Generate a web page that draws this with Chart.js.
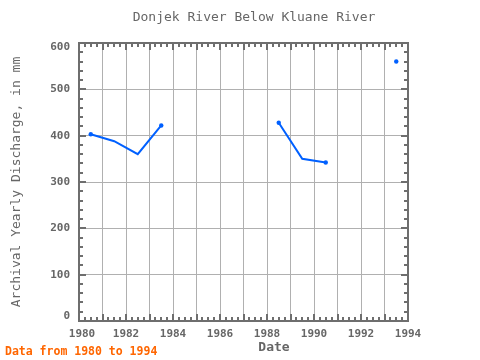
<!DOCTYPE html>
<html>
<head>
<meta charset="utf-8">
<script src="https://cdn.jsdelivr.net/npm/chart.js@4"></script>
<style>
  html, body { margin: 0; padding: 0; background: #fff; }
  #wrap { width: 480px; height: 360px; position: relative; }
</style>
</head>
<body>
<div id="wrap"><canvas id="chart" width="480" height="360"></canvas></div>
<script>
const years = [1980.5, 1981.5, 1982.5, 1983.5, 1984.5, 1985.5, 1986.5, 1987.5, 1988.5, 1989.5, 1990.5, 1991.5, 1992.5, 1993.5];
const discharge = [403, 388, 360, 422, null, null, null, null, 428, 350, 342, null, null, 560];
const xTickLabels = [1980, 1982, 1984, 1986, 1988, 1990, 1992, 1994];
const yTickLabels = [0, 100, 200, 300, 400, 500, 600];

const titleText = 'Donjek River Below Kluane River';
const yTitle = 'Archival Yearly Discharge, in mm';
const xTitle = 'Date';
const footText = 'Data from 1980 to 1994';

const mono = "'DejaVu Sans Mono', monospace";
const axisColor = '#6e6e6e';
const textColor = '#666666';

// marker only where a run of values starts or ends
function endRadius(c) {
  const i = c.dataIndex;
  const prev = i > 0 ? discharge[i - 1] : null;
  const next = i < discharge.length - 1 ? discharge[i + 1] : null;
  return (prev == null || next == null) ? 2.2 : 0;
}

const framePlugin = {
  id: 'frame',
  beforeDatasetsDraw(chart) {
    const { ctx, chartArea: a, scales: { x, y } } = chart;
    ctx.save();
    ctx.strokeStyle = axisColor;
    ctx.lineWidth = 2;
    ctx.beginPath();
    // x ticks, quarter years, inward from bottom and top
    for (let i = 0; i <= 56; i++) {
      const px = Math.round(x.getPixelForValue(1980 + i / 4));
      const len = i % 4 === 0 ? 7 : 4;
      ctx.moveTo(px, a.bottom); ctx.lineTo(px, a.bottom - len);
      ctx.moveTo(px, a.top); ctx.lineTo(px, a.top + len);
    }
    // y ticks every 20
    for (let v = 0; v <= 600; v += 20) {
      const py = Math.round(y.getPixelForValue(v));
      const len = v % 100 === 0 ? 7 : 4;
      ctx.moveTo(a.left, py); ctx.lineTo(a.left + len, py);
      ctx.moveTo(a.right, py); ctx.lineTo(a.right - len, py);
    }
    ctx.stroke();
    ctx.lineWidth = 2;
    ctx.strokeRect(a.left, a.top, a.right - a.left, a.bottom - a.top);
    ctx.restore();
  },
  afterDraw(chart) {
    const { ctx, chartArea: a, scales: { x, y } } = chart;
    ctx.save();
    ctx.fillStyle = textColor;
    ctx.font = 'bold 11px ' + mono;
    ctx.textBaseline = 'middle';
    ctx.textAlign = 'right';
    yTickLabels.forEach(v => {
      let py = y.getPixelForValue(v);
      py = Math.min(Math.max(py, a.top + 4), a.bottom - 5);
      ctx.fillText(String(v), a.left - 9, py);
    });
    ctx.textAlign = 'center';
    xTickLabels.forEach(v => {
      let px = x.getPixelForValue(v);
      px = Math.max(px, a.left + 3);
      ctx.fillText(String(v), px, a.bottom + 13);
    });

    ctx.font = '13px ' + mono;
    ctx.fillText(titleText, 254, 18);

    ctx.font = 'bold 13px ' + mono;
    ctx.fillText(xTitle, 274, 348);

    ctx.save();
    ctx.translate(17, (a.top + a.bottom) / 2);
    ctx.rotate(-Math.PI / 2);
    ctx.font = '13px ' + mono;
    ctx.fillText(yTitle, 0, 0);
    ctx.restore();

    ctx.textAlign = 'left';
    ctx.fillStyle = '#ff6600';
    ctx.font = 'bold 11.5px ' + mono;
    ctx.fillText(footText, 5, 352);
    ctx.restore();
  }
};

new Chart(document.getElementById('chart'), {
  type: 'line',
  data: {
    datasets: [{
      data: years.map((yr, i) => ({ x: yr, y: discharge[i] })),
      borderColor: '#0060ff',
      backgroundColor: '#0060ff',
      borderWidth: 2,
      pointRadius: endRadius,
      pointBorderWidth: 0,
      pointHoverRadius: endRadius,
      spanGaps: false,
      tension: 0
    }]
  },
  options: {
    responsive: false,
    animation: false,
    layout: { padding: { top: 43, right: 72, left: 0, bottom: 0 } },
    plugins: { legend: { display: false }, tooltip: { enabled: false }, title: { display: false } },
    scales: {
      x: {
        type: 'linear',
        min: 1980,
        max: 1994,
        afterFit(s) { s.height = 39; },
        ticks: { stepSize: 1, display: false },
        grid: { color: '#b0b0b0', lineWidth: 1, drawTicks: false },
        border: { display: false }
      },
      y: {
        min: 0,
        max: 600,
        afterFit(s) { s.width = 79; },
        ticks: { stepSize: 100, display: false },
        grid: { color: '#b0b0b0', lineWidth: 1, drawTicks: false },
        border: { display: false }
      }
    }
  },
  plugins: [framePlugin]
});
</script>
</body>
</html>
